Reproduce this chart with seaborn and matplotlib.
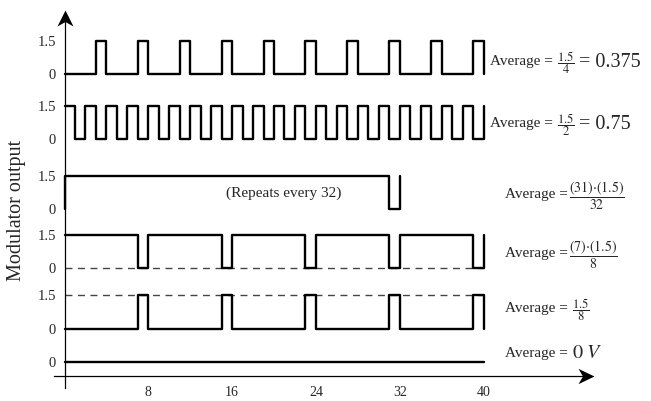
import numpy as np
import pandas as pd
import matplotlib.pyplot as plt
from matplotlib.path import Path
import seaborn as sns

# time slots (width 1) in which each modulator output is high / low
quarter_high = [3, 7, 11, 15, 19, 23, 27, 31, 35, 39]
half_high = [0, 2, 4, 6, 8, 10, 12, 14, 16, 18, 20, 22, 24, 26, 28, 30, 32, 34, 36, 38]
long_low = [31]
seven_eighths_low = [7, 15, 23, 31, 39]
one_eighth_high = [7, 15, 23, 31, 39]
zero_high = []

slot_lists = [quarter_high, half_high, long_low, seven_eighths_low, one_eighth_high, zero_high]
list_is_high = [True, True, False, False, True, True]
n_slots = [40, 40, 32, 40, 40, 40]
start_level = [0, 1.5, 0, 1.5, 0, 0]
end_level = [0, 1.5, 1.5, 1.5, 0, 0]
v_high = 1.5

# vertical position of each trace's 0 level
baselines = [13.54, 10.61, 7.49, 4.83, 2.11, 0.61]

x_ticks = [8, 16, 24, 32, 40]

avg_frac = [r"$\dfrac{1.5}{4}$", r"$\dfrac{1.5}{2}$", r"$\dfrac{(31){\cdot}(1.5)}{32}$",
            r"$\dfrac{(7){\cdot}(1.5)}{8}$", r"$\dfrac{1.5}{8}$", None]
frac_size = [9, 9, 10, 10, 9, 9]
frac_gap = [3, 3, 0.5, 0.5, 3, 3]
avg_tail = ["= 0.375", "= 0.75", None, None, None, r"$0\ V$"]
avg_x = [40.62, 40.62, 42.05, 42.05, 42.05, 42.05]
avg_y = [13.95, 11.18, 7.97, 5.32, 2.88, 0.87]

sns.set_style("white")
plt.rcParams["font.family"] = ["Liberation Serif", "DejaVu Serif"]
plt.rcParams["mathtext.fontset"] = "stix"


def trace(slots, is_high, n, v0, v_end):
    levels = []
    for i in range(n):
        on = (i in slots) == is_high
        levels.append(v_high if on else 0.0)
    xs, ys = [0], [v0]
    for i, v in enumerate(levels):
        xs += [i, i + 1]
        ys += [v, v]
    xs.append(n)
    ys.append(v_end)
    return xs, ys


frames = []
for k in range(6):
    xs, ys = trace(slot_lists[k], list_is_high[k], n_slots[k], start_level[k], end_level[k])
    frames.append(pd.DataFrame({"t": xs, "v": np.array(ys) + baselines[k], "row": k}))
df = pd.concat(frames, ignore_index=True)

fig = plt.figure(figsize=(6.51, 4.01), dpi=100)
ax = fig.add_axes([0, 0, 1, 1])
px_x, px_y = 10.475, 22.3
ax.set_xlim(-64.5 / px_x, (651 - 64.5) / px_x)
ax.set_ylim(-25 / px_y, 376 / px_y)

# dashed guide lines
ax.hlines(baselines[3], 0, 40, colors="#444444", lw=1, linestyles=(0, (5, 4)))
ax.hlines(baselines[4] + v_high, 0, 40, colors="#444444", lw=1, linestyles=(0, (5, 4)))

sns.lineplot(data=df, x="t", y="v", units="row", estimator=None, sort=False,
             color="black", lw=1.7, ax=ax, legend=False)

# axes through the origin
for s in ["top", "right"]:
    ax.spines[s].set_visible(False)
ax.spines["left"].set_position(("data", 0))
ax.spines["bottom"].set_position(("data", 0))
ax.spines["left"].set_bounds(-12 / px_y, 16.2)
ax.spines["bottom"].set_bounds(-1.0, 50.3)
for s in ["left", "bottom"]:
    ax.spines[s].set_linewidth(0.9)
    ax.spines[s].set_color("black")

head_r = Path([(0, 0), (-1, 0.48), (-0.72, 0), (-1, -0.48), (0, 0)],
              [Path.MOVETO, Path.LINETO, Path.LINETO, Path.LINETO, Path.CLOSEPOLY])
head_u = Path([(0, 0), (-0.5, -1), (0, -0.72), (0.5, -1), (0, 0)],
              [Path.MOVETO, Path.LINETO, Path.LINETO, Path.LINETO, Path.CLOSEPOLY])
ax.plot([50.55], [0], marker=head_r, ms=23, color="black", mew=0)
ax.plot([0], [366 / px_y], marker=head_u, ms=23, color="black", mew=0)

ax.set_xticks(x_ticks)
ax.set_xticklabels([str(t) for t in x_ticks])
ax.tick_params(axis="x", direction="inout", length=9, width=0.9, pad=3, labelsize=10)

yt, yl = [], []
for k, b in enumerate(baselines):
    yt.append(b)
    yl.append("0")
    if k < 5:
        yt.append(b + v_high)
        yl.append("1.5")
ax.set_yticks(yt)
ax.set_yticklabels(yl)
ax.tick_params(axis="y", length=0, pad=6, labelsize=10.5)

ax.set_xlabel("")
ax.set_ylabel("Modulator output", fontsize=14.5)
ax.yaxis.set_label_coords(0.04, 0.475)

ax.text(20.9, 8.2, "(Repeats every 32)", fontsize=11, ha="center", va="center")

for k in range(6):
    t = ax.text(avg_x[k], avg_y[k], "Average =", fontsize=11, ha="left", va="baseline")
    anchor = t
    if avg_frac[k] is not None:
        anchor = ax.annotate(avg_frac[k], xy=(1, 0.42), xycoords=t, xytext=(frac_gap[k], 0),
                             textcoords="offset points", fontsize=frac_size[k],
                             ha="left", va="center")
    if avg_tail[k] is not None:
        ax.annotate(avg_tail[k], xy=(1, 0.5), xycoords=anchor, xytext=(3, 0),
                    textcoords="offset points", fontsize=14.5, ha="left", va="center")

fig.savefig("out.png", dpi=100)
